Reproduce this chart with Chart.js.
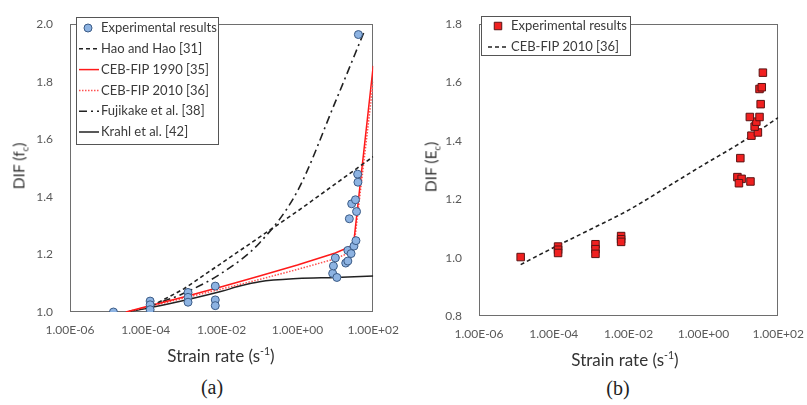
<!DOCTYPE html>
<html><head><meta charset="utf-8">
<script src="https://cdn.jsdelivr.net/npm/chart.js@4.4.1/dist/chart.umd.min.js"></script>
<style>
html,body{margin:0;padding:0;width:807px;height:405px;overflow:hidden;background:#fff;}
.c{position:absolute;top:0;height:345px;}
.t{position:absolute;font-family:Lato,sans-serif;font-size:17px;color:#333;white-space:nowrap;transform:translate(-50%,-50%);}
.r{font-size:15.5px;transform:translate(-50%,-50%) rotate(-90deg);}
.cap{position:absolute;font-family:"Liberation Serif",serif;font-size:20px;color:#222;transform:translate(-50%,-50%);white-space:nowrap;}
sub,sup{font-size:0.62em;}
</style></head>
<body>
<div class="c" style="left:0;width:410px"><canvas id="ca"></canvas></div>
<div class="c" style="left:410px;width:405px"><canvas id="cb"></canvas></div>
<div class="t" style="left:221px;top:355px">Strain rate (s<sup>-1</sup>)</div>
<div class="t" style="left:625px;top:359px">Strain rate (s<sup>-1</sup>)</div>
<div class="t r" style="left:20px;top:166px">DIF (f<sub>c</sub>)</div>
<div class="t r" style="left:432px;top:167px">DIF (E<sub>c</sub>)</div>
<div class="cap" style="left:212px;top:387px">(a)</div>
<div class="cap" style="left:618px;top:388px">(b)</div>
<script>
// ---------- shared axis ticks ----------
const xTickValues = [1e-6, 1e-4, 1e-2, 1, 1e2];
const xTickLabels = ['1.00E-06', '1.00E-04', '1.00E-02', '1.00E+00', '1.00E+02'];
const yTicksA = [1.0, 1.2, 1.4, 1.6, 1.8, 2.0];
const yTicksB = [0.8, 1.0, 1.2, 1.4, 1.6, 1.8];

// ---------- (a) compressive strength ----------
const expA_rate = [1.4e-5, 1.3e-4, 1.3e-4, 1.3e-4, 1.3e-3, 1.3e-3, 1.3e-3, 6.8e-3, 6.8e-3, 6.8e-3,
  8.5, 11, 8.9, 10, 18.8, 21.4, 21.4, 26, 31, 35, 23.4, 36.3, 27, 34, 38.8, 39.5, 40.5];
const expA_dif = [1.0, 1.038, 1.025, 1.008, 1.068, 1.051, 1.034, 1.09, 1.042, 1.022,
  1.134, 1.12, 1.16, 1.188, 1.17, 1.177, 1.214, 1.203, 1.229, 1.248, 1.324, 1.349, 1.376, 1.39, 1.479, 1.451, 1.964];

const hao_rate = [1e-4, 1e-3, 1e-2, 1e-1, 1, 10, 100];
const hao_dif = [1.01, 1.08, 1.17, 1.26, 1.35, 1.445, 1.54];

const ceb90_rate = [3e-5, 1e-4, 1e-3, 1e-2, 1e-1, 1, 10, 30, 100];
const ceb90_dif = [1.0, 1.018, 1.052, 1.088, 1.125, 1.163, 1.205, 1.232, 1.855];

const ceb10_rate = [3e-5, 1e-4, 1e-3, 1e-2, 1e-1, 1, 10, 30, 100];
const ceb10_dif = [1.0, 1.016, 1.048, 1.08, 1.113, 1.148, 1.185, 1.212, 1.80];

const fuji_rate = [1e-4, 1e-3, 1e-2, 1e-1, 1, 10, 60];
const fuji_dif = [1.015, 1.065, 1.135, 1.24, 1.42, 1.73, 1.98];

const krahl_rate = [3e-5, 1e-4, 1e-3, 1e-2, 3e-2, 1e-1, 1, 10, 100];
const krahl_dif = [1.0, 1.012, 1.04, 1.072, 1.09, 1.105, 1.116, 1.12, 1.125];

// ---------- (b) elastic modulus ----------
const expB_rate = [1.3e-5, 1.3e-4, 1.3e-4, 1.3e-4, 1.3e-3, 1.3e-3, 1.3e-3, 6.3e-3, 6.3e-3, 6.3e-3,
  9.7, 8.1, 10.5, 8.9, 18.1, 19.2, 28.6, 23.4, 26, 17.4, 31.6, 33.9, 31.6, 36.3, 38.9];
const expB_dif = [1.002, 1.038, 1.027, 1.016, 1.046, 1.029, 1.013, 1.074, 1.063, 1.054,
  1.341, 1.276, 1.27, 1.255, 1.261, 1.418, 1.429, 1.449, 1.466, 1.482, 1.482, 1.526, 1.578, 1.584, 1.634];

const cebB_rate = [1.3e-5, 1e-4, 1e-3, 1e-2, 1e-1, 1, 10, 100];
const cebB_dif = [0.976, 1.035, 1.098, 1.163, 1.24, 1.318, 1.394, 1.48];

// ---------- helpers ----------
const pts = (xs, ys) => xs.map((x, i) => ({x: x, y: ys[i]}));
const FONT = 'Lato, sans-serif';
const TICK = '#595959';

const boxPlugin = {
  id: 'plotBox',
  beforeDatasetsDraw(chart) {
    const a = chart.chartArea, ctx = chart.ctx;
    ctx.save();
    ctx.strokeStyle = '#6e6e6e';
    ctx.lineWidth = 1;
    ctx.strokeRect(Math.round(a.left) + 0.5, Math.round(a.top) + 0.5,
      Math.round(a.right - a.left) - 1, Math.round(a.bottom - a.top) - 1);
    ctx.restore();
  }
};

const legendPlugin = {
  id: 'boxLegend',
  afterDatasetsDraw(chart, args, o) {
    const ctx = chart.ctx;
    ctx.save();
    ctx.fillStyle = '#fff';
    ctx.fillRect(o.x, o.y, o.w, o.h);
    ctx.strokeStyle = '#555';
    ctx.lineWidth = 1;
    ctx.strokeRect(o.x + 0.5, o.y + 0.5, o.w, o.h);
    chart.data.datasets.forEach((ds, i) => {
      const y = o.y0 + i * o.dy;
      if (ds.showLine === false) {
        ctx.fillStyle = ds.backgroundColor;
        ctx.strokeStyle = ds.borderColor;
        ctx.lineWidth = ds.borderWidth;
        Chart.helpers.drawPoint(ctx, {pointStyle: ds.pointStyle, radius: ds.pointRadius, borderWidth: ds.borderWidth, rotation: 0}, o.mx, y);
      } else {
        ctx.setLineDash(ds.borderDash || []);
        ctx.strokeStyle = ds.borderColor;
        ctx.lineWidth = ds.borderWidth;
        ctx.beginPath();
        ctx.moveTo(o.x1, y);
        ctx.lineTo(o.x2, y);
        ctx.stroke();
        ctx.setLineDash([]);
      }
      ctx.fillStyle = '#3a3a3a';
      ctx.font = '13px ' + FONT;
      ctx.textBaseline = 'middle';
      ctx.textAlign = 'left';
      ctx.fillText(ds.label, o.tx, y);
    });
    ctx.restore();
  }
};

function lineDs(label, xs, ys, color, dash, width, smooth) {
  return {
    type: 'line', label: label, data: pts(xs, ys), borderColor: color, backgroundColor: color,
    borderDash: dash, borderWidth: width, pointRadius: 0, pointHoverRadius: 0, fill: false,
    showLine: true, tension: 0, cubicInterpolationMode: smooth ? 'monotone' : 'default'
  };
}

function makeOptions(yTicks, yMin, yMax, padTop, padRight, yWidth, xHeight, legend) {
  return {
    responsive: true, maintainAspectRatio: false, animation: false,
    layout: {padding: {top: padTop, right: padRight, left: 0, bottom: 0}},
    plugins: {legend: {display: false}, tooltip: {enabled: false}, boxLegend: legend},
    scales: {
      x: {
        type: 'logarithmic', min: 1e-6, max: 1e2,
        grid: {display: false, drawTicks: false}, border: {display: false},
        afterBuildTicks: s => { s.ticks = xTickValues.map(v => ({value: v})); },
        afterFit: s => { s.height = xHeight; },
        ticks: {
          autoSkip: false, maxRotation: 0, padding: 11, color: TICK,
          font: {family: FONT, size: 12},
          callback: (v) => { const i = xTickValues.findIndex(t => Math.abs(Math.log10(t) - Math.log10(v)) < 1e-6); return i >= 0 ? xTickLabels[i] : ''; }
        }
      },
      y: {
        type: 'linear', min: yMin, max: yMax,
        grid: {display: false, drawTicks: false}, border: {display: false},
        afterBuildTicks: s => { s.ticks = yTicks.map(v => ({value: v})); },
        afterFit: s => { s.width = yWidth; },
        ticks: {padding: 17, color: TICK, font: {family: FONT, size: 12}, callback: v => Number(v).toFixed(1)}
      }
    }
  };
}

new Chart(document.getElementById('ca'), {
  type: 'scatter',
  data: {datasets: [
    {label: 'Experimental results', data: pts(expA_rate, expA_dif), showLine: false, pointStyle: 'circle',
      pointRadius: 4, pointHoverRadius: 4, backgroundColor: '#8db3e2', borderColor: '#3b5b86', borderWidth: 1},
    lineDs('Hao and Hao [31]', hao_rate, hao_dif, '#222', [4, 3], 1.6, false),
    lineDs('CEB-FIP 1990 [35]', ceb90_rate, ceb90_dif, '#ff1a1a', [], 1.5, false),
    lineDs('CEB-FIP 2010 [36]', ceb10_rate, ceb10_dif, '#ff5050', [1.5, 1.5], 1.5, false),
    lineDs('Fujikake et al. [38]', fuji_rate, fuji_dif, '#222', [8, 4, 2, 4], 1.6, true),
    lineDs('Krahl et al. [42]', krahl_rate, krahl_dif, '#222', [], 1.5, true)
  ]},
  options: makeOptions(yTicksA, 1.0, 2.0, 12, 35, 70, 33,
    {x: 76, y: 17, w: 142, h: 127, y0: 28, dy: 20.8, mx: 88, x1: 79, x2: 99, tx: 101}),
  plugins: [boxPlugin, legendPlugin]
});

new Chart(document.getElementById('cb'), {
  type: 'scatter',
  data: {datasets: [
    {label: 'Experimental results', data: pts(expB_rate, expB_dif), showLine: false, pointStyle: 'rect',
      pointRadius: 5.3, pointHoverRadius: 5.3, backgroundColor: '#f02020', borderColor: '#5a1414', borderWidth: 1},
    lineDs('CEB-FIP 2010 [36]', cebB_rate, cebB_dif, '#222', [4, 3], 1.6, true)
  ]},
  options: makeOptions(yTicksB, 0.8, 1.8, 14, 31, 69, 29,
    {x: 71, y: 16, w: 149, h: 39, y0: 26, dy: 21, mx: 88, x1: 78, x2: 99, tx: 101}),
  plugins: [boxPlugin, legendPlugin]
});
</script>
</body></html>
